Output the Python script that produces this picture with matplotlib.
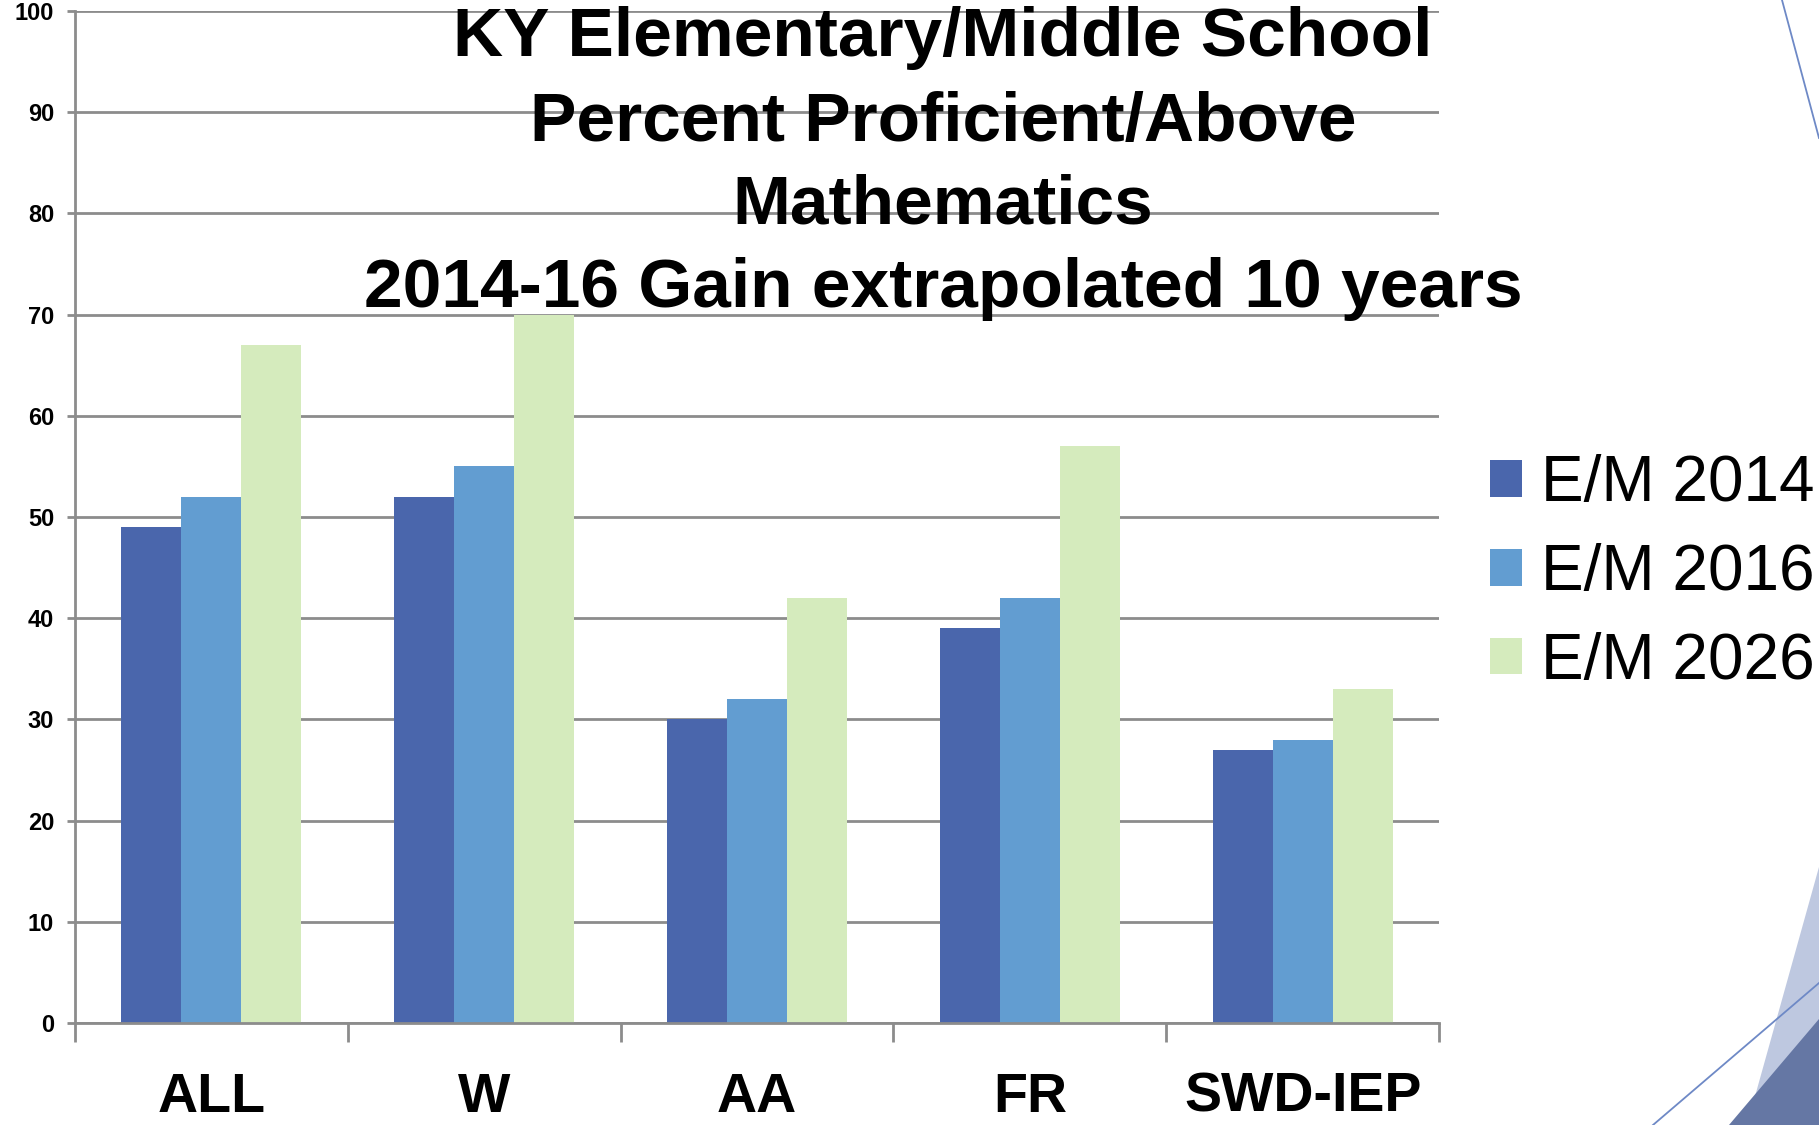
import numpy as np
import matplotlib
matplotlib.use("Agg")
import matplotlib.pyplot as plt
from matplotlib.patches import Polygon, Patch
from matplotlib.lines import Line2D

categories = ["ALL", "W", "AA", "FR", "SWD-IEP"]
series     = ["E/M 2014", "E/M 2016", "E/M 2026"]
em_2014    = [49, 52, 30, 39, 27]
em_2016    = [52, 55, 32, 42, 28]
em_2026    = [67, 70, 42, 57, 33]
yticks     = [0, 10, 20, 30, 40, 50, 60, 70, 80, 90, 100]
title_lines = ["KY Elementary/Middle School",
               "Percent Proficient/Above",
               "Mathematics",
               "2014-16 Gain extrapolated 10 years"]

colors  = ["#4a66ac", "#629dd1", "#d5ebbd"]
gridcol = "#8c8c8c"
W, H    = 1819, 1125
font    = ["Liberation Sans", "DejaVu Sans"]

plt.rcParams["font.family"] = font

fig = plt.figure(figsize=(W / 100, H / 100), dpi=100)
ax = fig.add_axes([75 / W, 1 - 1023 / H, (1439 - 75) / W, (1023 - 11) / H])

x = np.arange(len(categories))
bw = 0.22
for i, vals in enumerate([em_2014, em_2016, em_2026]):
    ax.bar(x + (i - 1) * bw, vals, width=bw, color=colors[i], zorder=2,
           label=series[i])

ax.set_xlim(-0.5, len(categories) - 0.5)
ax.set_ylim(0, 100)
ax.set_yticks(yticks)
ax.set_yticklabels([str(v) for v in yticks], fontsize=17, fontweight="bold")
ax.yaxis.grid(True, color=gridcol, lw=2, zorder=0)
ax.set_axisbelow(True)
ax.tick_params(axis="y", length=6, width=2, color=gridcol, pad=9)

# tick marks sit between the groups, names go in the middle
ax.set_xticks(np.arange(len(categories) + 1) - 0.5)
ax.set_xticklabels([])
ax.tick_params(axis="x", which="major", length=14, width=2, color=gridcol)
ax.set_xticks(x, minor=True)
ax.set_xticklabels(categories, minor=True, fontsize=40, fontweight="bold")
ax.tick_params(axis="x", which="minor", length=0, pad=35)

for s in ["top", "right"]:
    ax.spines[s].set_visible(False)
for s in ["left", "bottom"]:
    ax.spines[s].set_color(gridcol)
    ax.spines[s].set_linewidth(2)

# four title lines, each on its own baseline
for line, base in zip(title_lines, [56, 141, 223, 307]):
    fig.text(943 / W, 1 - base / H, line, ha="center", va="baseline",
             fontsize=50, fontweight="bold", zorder=10)

handles = [Patch(facecolor=c, edgecolor="none") for c in colors]
fig.legend(handles, series, loc="center left",
           bbox_to_anchor=(1490 / W, 1 - 573 / H), frameon=False,
           fontsize=46, handlelength=0.5, handleheight=0.5,
           handletextpad=0.3, labelspacing=0.45, borderpad=0,
           borderaxespad=0)

# slide decoration in the corner
def fpt(px, py):
    return (px / W, 1 - py / H)

fig.patches.append(Polygon([fpt(1819, 867), fpt(1747, 1125), fpt(1819, 1125)],
                           closed=True, facecolor="#bec8e0", edgecolor="none",
                           transform=fig.transFigure, figure=fig))
fig.patches.append(Polygon([fpt(1819, 1019), fpt(1729, 1125), fpt(1819, 1125)],
                           closed=True, facecolor="#6577a4", edgecolor="none",
                           transform=fig.transFigure, figure=fig))
for (x0, y0), (x1, y1) in [((1782, 0), (1819, 138)), ((1653, 1125), (1819, 983))]:
    a, b = fpt(x0, y0), fpt(x1, y1)
    fig.lines.append(Line2D([a[0], b[0]], [a[1], b[1]], color="#6e89c6", lw=1.3,
                            transform=fig.transFigure, figure=fig))

fig.savefig("out.png", dpi=100)
